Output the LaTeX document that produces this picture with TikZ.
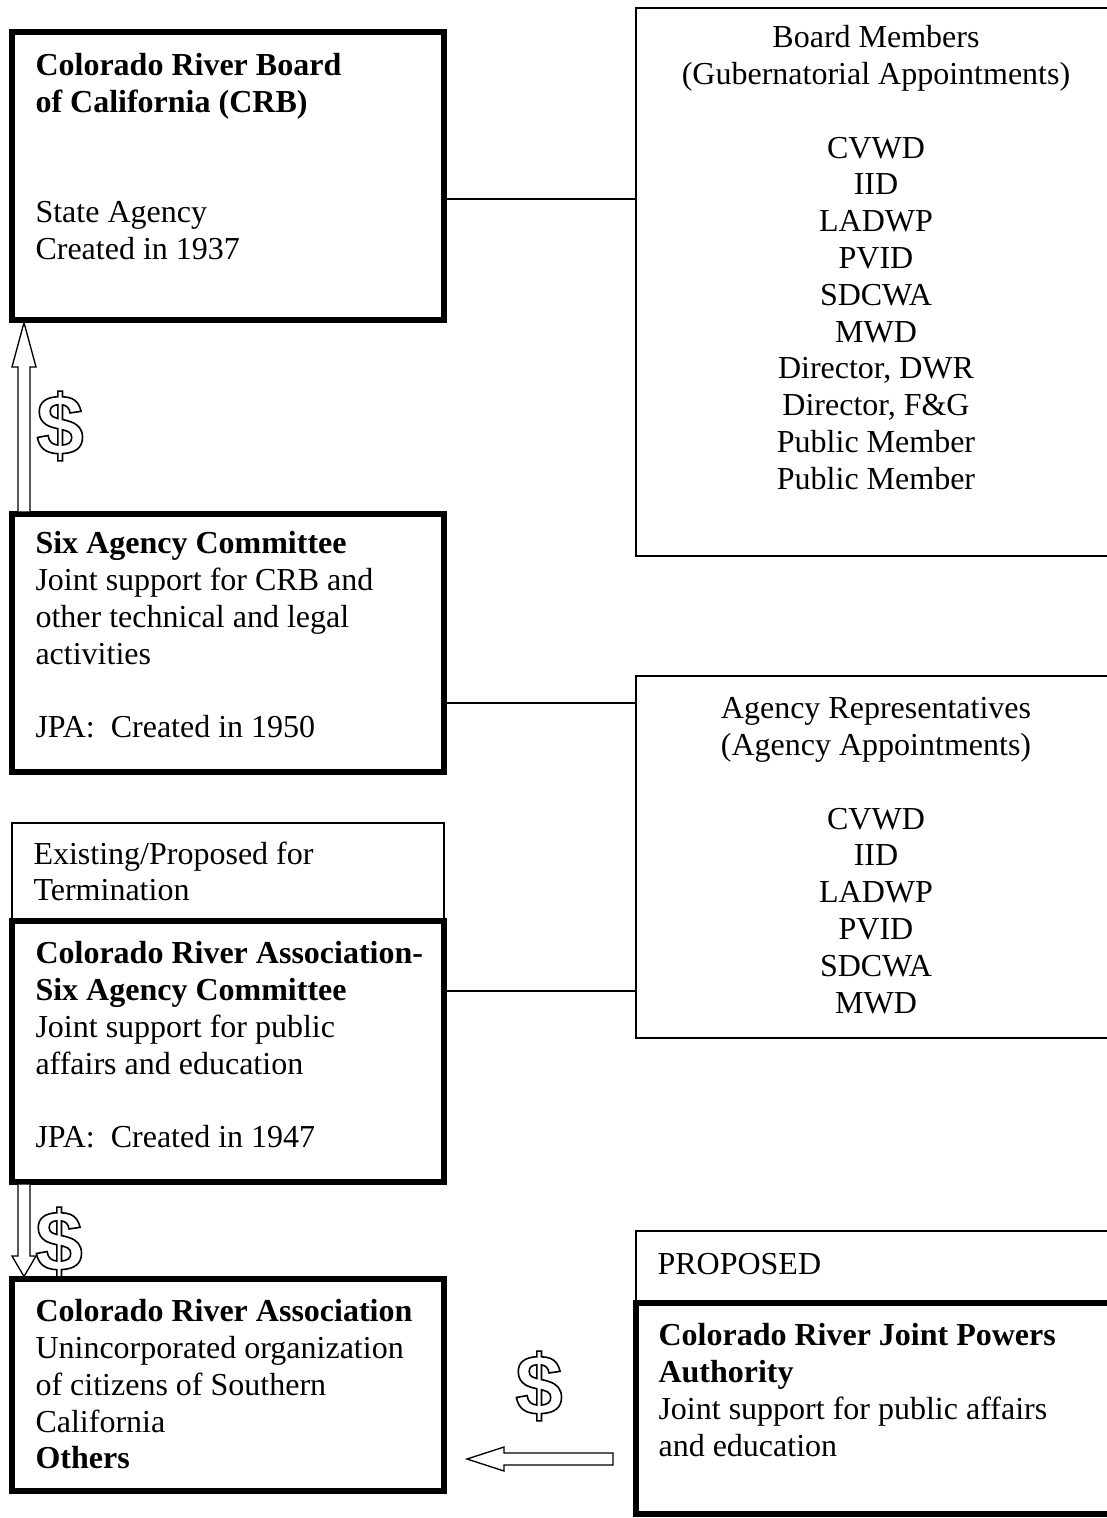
\documentclass[tikz,border=0pt]{standalone}
\usepackage{fontspec}
\setmainfont{Liberation Serif}
\newfontfamily\dollarfont{Liberation Sans Bold}
\usepackage{tikz}
\usetikzlibrary{fit}
\newcommand\outlined[1]{\special{pdf:code q 1 Tr 0.6 w}#1\special{pdf:code Q}}

\begin{document}
\begin{tikzpicture}[x=0.375pt,y=-0.375pt,
 thickbox/.style={rectangle,draw,line width=1.9pt,inner sep=0pt},
 thinbox/.style={rectangle,draw,line width=0.75pt,inner sep=0pt},
 boxtext/.style={anchor=north west,inner sep=0pt,align=left,font=\fontsize{12pt}{13.8pt}\selectfont,execute at begin node=\strut},
 listtext/.style={anchor=north,inner sep=0pt,align=center,font=\fontsize{12pt}{13.8pt}\selectfont,execute at begin node=\strut},
 dollar/.style={inner sep=0pt,font=\dollarfont\fontsize{32pt}{32pt}\selectfont},
 hollow/.style={draw,line width=0.5pt,fill=white,line join=miter}]
 \useasboundingbox (0,0) rectangle (1107,1518);

 \node [thickbox,fit={(12,32)(444,320)}] (crb) {};
 \node [thinbox,fit={(636,8)(1116,556)}] (board) {};
 \node [thickbox,fit={(12,514)(444,772)}] (six) {};
 \node [thinbox,fit={(636,676)(1116,1038)}] (reps) {};
 \node [thinbox,fit={(12,823)(444,921)}] (exist) {};
 \node [thickbox,fit={(12,921)(444,1182)}] (crasix) {};
 \node [thickbox,fit={(12,1279)(444,1491)}] (cra) {};
 \node [thinbox,fit={(636,1231)(1116,1303)}] (prop) {};
 \node [thickbox,fit={(636,1303)(1116,1514)}] (jpa) {};

 \node at (35,53) [boxtext] (crbtext) {\textbf{Colorado River Board}\\\textbf{of California (CRB)}\\[27.6pt]State Agency\\Created in 1937};
 \node at (35,531) [boxtext] (sixtext) {\textbf{Six Agency Committee}\\Joint support for CRB and\\other technical and legal\\activities\\[13.8pt]JPA:\ \ Created in 1950};
 \node at (33,841) [boxtext] (existtext) {Existing/Proposed for\\Termination};
 \node at (35,941) [boxtext] (crasixtext) {\textbf{Colorado River Association-}\\\textbf{Six Agency Committee}\\Joint support for public\\affairs and education\\[13.8pt]JPA:\ \ Created in 1947};
 \node at (35,1299) [boxtext] (cratext) {\textbf{Colorado River Association}\\Unincorporated organization\\of citizens of Southern\\California\\\textbf{Others}};
 \node at (876,25) [listtext] (boardtext) {Board Members\\(Gubernatorial Appointments)\\[13.8pt]CVWD\\IID\\LADWP\\PVID\\SDCWA\\MWD\\Director, DWR\\Director, F\&G\\Public Member\\Public Member};
 \node at (876,697) [listtext] (repstext) {Agency Representatives\\(Agency Appointments)\\[13.8pt]CVWD\\IID\\LADWP\\PVID\\SDCWA\\MWD};
 \node at (657,1248) [boxtext] (proptext) {PROPOSED};
 \node at (658,1323) [boxtext] (jpatext) {\textbf{Colorado River Joint Powers}\\\textbf{Authority}\\Joint support for public affairs\\and education};

 \draw [line width=0.75pt] (crb.east |- 0,199) -- (board.west |- 0,199);
 \draw [line width=0.75pt] (six.east |- 0,703) -- (reps.west |- 0,703);
 \draw [line width=0.75pt] (crasix.east |- 0,991) -- (reps.west |- 0,991);

 \coordinate (handover) at (467,1459);
 \coordinate (handtail) at (613,1459);
 \draw [hollow] (six.north -| 18,0) -- (18,367) -- (12,367) -- (crb.south -| 24,0) -- (36,367) -- (30,367) -- (six.north -| 30,0);
 \draw [hollow] (crasix.south -| 18,0) -- (18,1256) -- (12,1256) -- (cra.north -| 24,0) -- (36,1256) -- (30,1256) -- (crasix.south -| 30,0);
 \draw [hollow] (handtail |- 0,1453) -- (504,1453) -- (504,1447) -- (handover) -- (504,1471) -- (504,1465) -- (handtail |- 0,1465) -- cycle;

 \node at (60,426) [dollar] (usd1) {\outlined{\$}};
 \node at (59,1242) [dollar] (usd2) {\outlined{\$}};
 \node at (539,1386) [dollar] (usd3) {\outlined{\$}};
\end{tikzpicture}
\end{document}
